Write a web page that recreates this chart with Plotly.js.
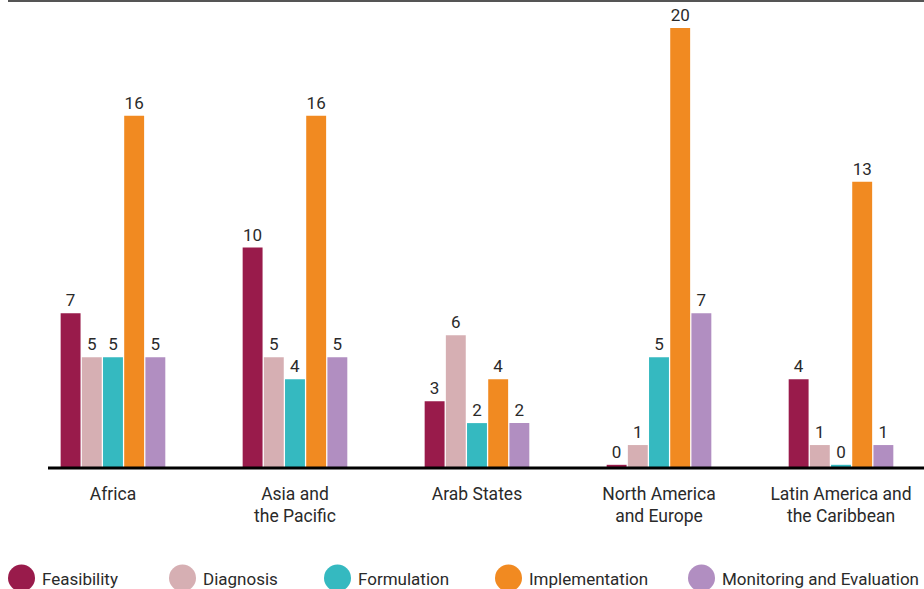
<!DOCTYPE html>
<html>
<head>
<meta charset="utf-8">
<script src="https://cdn.plot.ly/plotly-3.0.1.min.js"></script>
<style>html,body{margin:0;padding:0;background:#fff;}#chart{width:924px;height:589px;}</style>
</head>
<body>
<div id="chart"></div>
<script>
const regions = ["Africa", "Asia and<br>the Pacific", "Arab States", "North America<br>and Europe", "Latin America and<br>the Caribbean"];
const seriesNames = ["Feasibility", "Diagnosis", "Formulation", "Implementation", "Monitoring and Evaluation"];
const feasibility = [7, 10, 3, 0, 4];
const diagnosis = [5, 5, 6, 1, 1];
const formulation = [5, 4, 2, 5, 0];
const implementation = [16, 16, 4, 20, 13];
const monitoring = [5, 5, 2, 7, 1];
const seriesColors = ["#991B4B", "#D6AFB3", "#35B9C0", "#F18A21", "#B18EC1"];

const FONT = "Roboto, 'Liberation Sans', sans-serif";
const W = 924, H = 589, ML = 48, MR = 0, MT = 0, MB = 122;
const PW = W - ML - MR, PH = H - MT - MB;
const px2x = p => (p - ML) / PW;
const px2y = p => (H - MB - p) / PH;

const allSeries = [feasibility, diagnosis, formulation, implementation, monitoring];
const traces = allSeries.map((vals, i) => ({
  type: "bar",
  name: seriesNames[i],
  x: regions,
  y: vals.map(v => v === 0 ? 0.1 : v),
  text: vals.map(String),
  textposition: "outside",
  textfont: {family: FONT, size: 17, color: "#2a2a2a"},
  cliponaxis: false,
  marker: {color: seriesColors[i], line: {width: 0}},
  hoverinfo: "skip",
  showlegend: false
}));

const legendX = [21.5, 182.5, 337.5, 508.5, 701.5];
const legendCy = 578;
const shapes = [
  {type: "line", xref: "paper", yref: "paper", x0: px2x(8), x1: px2x(924), y0: px2y(1), y1: px2y(1), line: {color: "#555", width: 2}},
  {type: "line", xref: "paper", yref: "paper", x0: px2x(48), x1: px2x(924), y0: px2y(468), y1: px2y(468), line: {color: "#000", width: 3}}
];
const annotations = [];
seriesNames.forEach((n, i) => {
  shapes.push({type: "circle", xref: "paper", yref: "paper", xsizemode: "pixel", ysizemode: "pixel",
    xanchor: px2x(legendX[i]), yanchor: px2y(legendCy), x0: -13.5, x1: 13.5, y0: -13.5, y1: 13.5,
    fillcolor: seriesColors[i], line: {width: 0}});
  annotations.push({xref: "paper", yref: "paper", x: px2x(legendX[i] + 18), y: px2y(legendCy + 1),
    xanchor: "left", yanchor: "middle", showarrow: false, text: n,
    font: {family: FONT, size: 17, color: "#2a2a2a"}});
});

const layout = {
  width: W, height: H,
  margin: {l: ML, r: MR, t: MT, b: MB, pad: 0},
  paper_bgcolor: "#fff", plot_bgcolor: "#fff",
  barmode: "group", bargap: 0.418, bargroupgap: 0.06,
  xaxis: {type: "category", range: [-0.357, 4.456], showline: false, ticks: "", showgrid: false, zeroline: false,
    tickfont: {family: FONT, size: 17.5, color: "#2a2a2a"}, ticklabelstandoff: 14, fixedrange: true},
  yaxis: {range: [0, PH / 21.95], visible: false, showgrid: false, zeroline: false, fixedrange: true},
  shapes: shapes,
  annotations: annotations,
  showlegend: false
};

Plotly.newPlot("chart", traces, layout, {displayModeBar: false, staticPlot: true});
</script>
</body>
</html>
